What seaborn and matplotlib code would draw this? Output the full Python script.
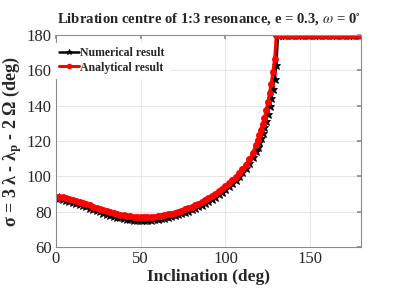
import pandas as pd
import matplotlib
matplotlib.use("Agg")
import matplotlib.pyplot as plt
import seaborn as sns

# inclination grid (deg)
inclination = [0, 2, 4, 6, 8, 10, 12, 14, 16, 18, 20, 22, 24, 26, 28, 30, 32, 34, 36, 38,
               40, 42, 44, 46, 48, 50, 52, 54, 56, 58, 60, 62, 64, 66, 68, 70, 72, 74, 76, 78,
               80, 82, 84, 86, 88, 90, 92, 94, 96, 98, 100, 102, 104, 106, 108, 110, 112, 114,
               116, 118, 119, 120, 121, 122, 123, 124, 125, 126, 127, 128, 129, 130, 131, 132,
               134, 136, 138, 140, 142, 144, 146, 148, 150, 152, 154, 156, 158, 160, 162, 164,
               166, 168, 170, 172, 174, 176, 178, 180]

numerical = [87.6, 87.5, 87.2, 86.8, 86.2, 85.6, 85.0, 84.4, 83.7, 83.0, 82.3, 81.6, 80.9, 80.2,
             79.5, 78.9, 78.3, 77.7, 77.2, 76.8, 76.4, 76.1, 75.8, 75.6, 75.5, 75.4, 75.4, 75.4,
             75.5, 75.7, 75.9, 76.2, 76.5, 76.9, 77.4, 77.9, 78.5, 79.1, 79.8, 80.5, 81.3, 82.1,
             83.0, 84.0, 85.1, 86.2, 87.4, 88.6, 89.9, 91.3, 92.8, 94.4, 96.1, 98.0, 100.0, 102.3,
             104.8, 107.6, 110.8, 114.6, 116.8, 119.2, 121.9, 124.8, 128.0, 131.5, 135.5, 140.0,
             144.5, 149.5, 155.0, 163.0, 180, 180,
             180, 180, 180, 180, 180, 180, 180, 180, 180, 180, 180, 180, 180, 180, 180, 180,
             180, 180, 180, 180, 180, 180, 180, 180]

analytical = [88.5, 88.4, 88.2, 87.8, 87.3, 86.8, 86.2, 85.6, 85.0, 84.3, 83.6, 82.9, 82.2, 81.5,
              80.9, 80.3, 79.7, 79.2, 78.7, 78.3, 77.9, 77.6, 77.4, 77.2, 77.1, 77.0, 77.0, 77.0,
              77.1, 77.3, 77.5, 77.8, 78.1, 78.5, 79.0, 79.5, 80.0, 80.6, 81.3, 82.0, 82.8, 83.7,
              84.6, 85.6, 86.7, 87.8, 89.0, 90.3, 91.6, 93.0, 94.5, 96.1, 97.8, 99.7, 101.8, 104.1,
              106.7, 109.6, 113.0, 118.0, 120.5, 123.3, 126.3, 129.6, 133.3, 137.5, 142.0, 147.0,
              152.5, 159.0, 166.5, 180, 180, 180,
              180, 180, 180, 180, 180, 180, 180, 180, 180, 180, 180, 180, 180, 180, 180, 180,
              180, 180, 180, 180, 180, 180, 180, 180]

labels = ["Numerical result", "Analytical result"]

df = pd.concat([
    pd.DataFrame({"inc": inclination, "sigma": numerical, "serie": labels[0]}),
    pd.DataFrame({"inc": inclination, "sigma": analytical, "serie": labels[1]}),
])

sns.set_theme(style="whitegrid")
plt.rcParams["font.family"] = ["Liberation Serif", "DejaVu Serif"]
plt.rcParams["mathtext.fontset"] = "stix"

fig = plt.figure(figsize=(3.99, 2.90), dpi=100)
ax = fig.add_axes([0.14, 0.148, 0.765, 0.731])

sns.lineplot(data=df[df.serie == labels[0]], x="inc", y="sigma", color="black",
             marker="*", markersize=6.5, markeredgecolor="black", markeredgewidth=0.6,
             linewidth=1.8, label=labels[0], ax=ax)
sns.lineplot(data=df[df.serie == labels[1]], x="inc", y="sigma", color="red",
             marker="o", markersize=5, markeredgecolor="red", markeredgewidth=0,
             linewidth=2.2, label=labels[1], ax=ax)

ax.set_xlim(0, 180)
ax.set_ylim(60, 180)
ax.set_xticks([0, 50, 100, 150])
ax.set_yticks([60, 80, 100, 120, 140, 160, 180])
ax.set_facecolor("white")
ax.grid(True, color="#e6e6e6", linewidth=0.7)
for s in ax.spines.values():
    s.set_color("#8c8c8c")
    s.set_linewidth(0.8)
ax.tick_params(direction="in", length=3, color="#8c8c8c", labelsize=12,
               labelcolor="#262626", top=True, right=True, pad=3)

ax.set_xlabel("Inclination (deg)", fontsize=12.5, fontweight="bold", color="#262626", labelpad=1)
ax.set_ylabel("σ = 3 λ - λ$_\\mathbf{p}$ - 2 Ω (deg)", fontsize=13, fontweight="bold",
              color="#262626", labelpad=2)
ax.set_title("Libration centre of 1:3 resonance, e = 0.3, $\\omega$ = 0$^{\\circ}$",
             fontsize=10.6, fontweight="bold", pad=9)

leg = ax.legend(loc="upper left", bbox_to_anchor=(-0.005, 0.965), frameon=True,
                handlelength=1.7, handletextpad=0.1, borderaxespad=0, labelspacing=0.2,
                prop={"weight": "bold", "size": 8.5})
leg.get_frame().set_edgecolor("white")
leg.get_frame().set_alpha(1)
for h in leg.legend_handles:
    h.set_markersize(4)

fig.savefig("out.png", dpi=100)
